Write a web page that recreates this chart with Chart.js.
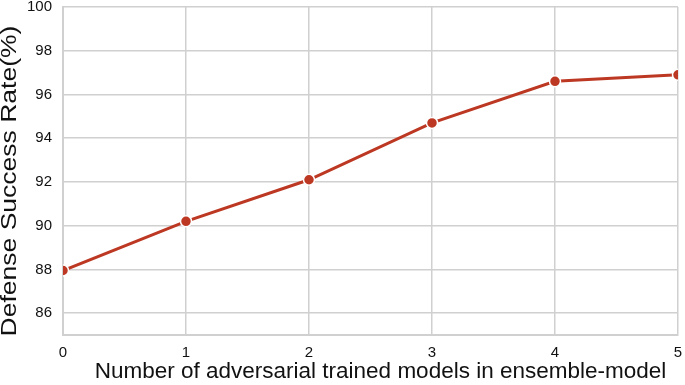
<!DOCTYPE html>
<html><head><meta charset="utf-8">
<script src="https://cdn.jsdelivr.net/npm/chart.js@4/dist/chart.umd.min.js"></script>
<style>html,body{margin:0;padding:0;background:#fff}#wrap{width:685px;height:385px}</style>
</head><body><div id="wrap"><canvas id="c" width="685" height="385"></canvas></div>
<script>
const models = [0, 1, 2, 3, 4, 5];
const successRate = [87.95, 90.2, 92.1, 94.7, 96.6, 96.9];
const yTicks = [86, 88, 90, 92, 94, 96, 98, 100];
const xLabel = 'Number of adversarial trained models in ensemble-model';
const yLabel = 'Defense Success Rate(%)';

const FONT = '"Liberation Sans", Arial, Helvetica, sans-serif';
const grid = '#d0d0d0';

const axisTitles = {
  id: 'axisTitles',
  afterDraw(chart) {
    const ctx = chart.ctx, a = chart.chartArea;
    ctx.save();
    ctx.fillStyle = '#111';
    ctx.textAlign = 'center';
    ctx.textBaseline = 'middle';
    ctx.font = '22.5px ' + FONT;
    ctx.fillText(xLabel, (a.left + a.right) / 2 + 10, a.bottom + 37);
    ctx.translate(15.5, (a.top + a.bottom) / 2 + 10);
    ctx.rotate(-Math.PI / 2);
    ctx.scale(1, 0.8);
    ctx.textBaseline = 'alphabetic';
    ctx.font = '26.5px ' + FONT;
    ctx.fillText(yLabel, 0, 0);
    ctx.restore();
  }
};

new Chart(document.getElementById('c'), {
  type: 'line',
  data: {
    datasets: [{
      data: models.map((m, i) => ({x: m, y: successRate[i]})),
      borderColor: '#bd3823',
      backgroundColor: '#bd3823',
      borderWidth: 3,
      pointRadius: 5.5,
      pointBorderColor: '#ffffff',
      pointBorderWidth: 1.5,
      pointBackgroundColor: '#bd3823',
      clip: 0,
      tension: 0
    }]
  },
  plugins: [axisTitles],
  options: {
    responsive: false,
    animation: false,
    layout: {padding: {top: 7, right: 5, left: 0, bottom: 0}},
    plugins: {legend: {display: false}, tooltip: {enabled: false}},
    scales: {
      x: {
        type: 'linear', min: 0, max: 5,
        afterBuildTicks: s => { s.ticks = models.map(v => ({value: v})); },
        afterFit: s => { s.height = 50; s.paddingLeft = 0; s.paddingRight = 0; },
        grid: {color: grid, lineWidth: 1.5, drawTicks: false},
        border: {color: grid, width: 2},
        ticks: {color: '#111', font: {family: FONT, size: 15}, padding: 9, maxRotation: 0}
      },
      y: {
        min: 85, max: 100,
        afterBuildTicks: s => { s.ticks = yTicks.map(v => ({value: v})); },
        afterFit: s => { s.width = 63; s.paddingTop = 0; s.paddingBottom = 0; },
        grid: {color: grid, lineWidth: 1.5, drawTicks: false},
        border: {color: grid, width: 2},
        ticks: {color: '#111', font: {family: FONT, size: 15}, padding: 11}
      }
    }
  }
});
</script></body></html>
